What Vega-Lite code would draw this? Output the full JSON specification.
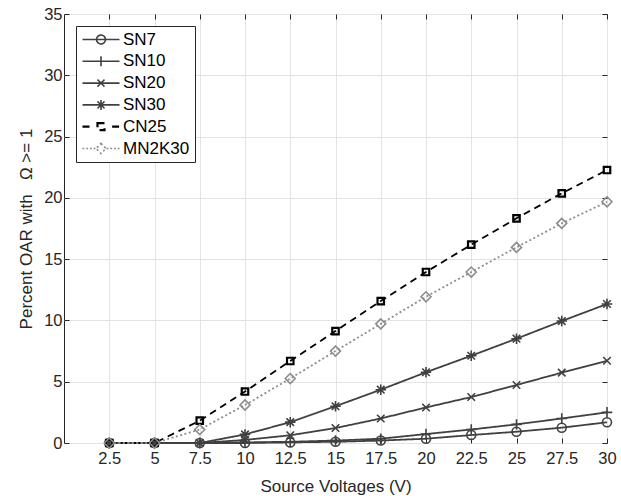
{
  "$schema": "https://vega.github.io/schema/vega-lite/v6.json",
  "width": 543,
  "height": 429,
  "autosize": {"type": "none"},
  "padding": {"left": 64, "top": 14, "right": 14, "bottom": 53},
  "background": "white",
  "config": {
    "font": "Liberation Sans",
    "view": {"stroke": "#262626", "strokeWidth": 1},
    "axis": {
      "labelFont": "Liberation Sans",
      "labelFontSize": 16.5,
      "labelColor": "#262626",
      "titleFont": "Liberation Sans",
      "titleFontSize": 17,
      "titleFontWeight": "normal",
      "titleColor": "#262626",
      "domainColor": "#262626",
      "tickColor": "#262626",
      "gridColor": "#e3e3e3",
      "gridWidth": 1,
      "labelFlush": false,
      "labelOverlap": false
    }
  },
  "data": {
    "values": [
      {"v": 2.5, "s": "SN7", "p": 0}, {"v": 5, "s": "SN7", "p": 0}, {"v": 7.5, "s": "SN7", "p": 0}, {"v": 10, "s": "SN7", "p": 0}, {"v": 12.5, "s": "SN7", "p": 0.05}, {"v": 15, "s": "SN7", "p": 0.1}, {"v": 17.5, "s": "SN7", "p": 0.2}, {"v": 20, "s": "SN7", "p": 0.35}, {"v": 22.5, "s": "SN7", "p": 0.65}, {"v": 25, "s": "SN7", "p": 0.92}, {"v": 27.5, "s": "SN7", "p": 1.25}, {"v": 30, "s": "SN7", "p": 1.69},
      {"v": 2.5, "s": "SN10", "p": 0}, {"v": 5, "s": "SN10", "p": 0}, {"v": 7.5, "s": "SN10", "p": 0}, {"v": 10, "s": "SN10", "p": 0.05}, {"v": 12.5, "s": "SN10", "p": 0.1}, {"v": 15, "s": "SN10", "p": 0.2}, {"v": 17.5, "s": "SN10", "p": 0.35}, {"v": 20, "s": "SN10", "p": 0.73}, {"v": 22.5, "s": "SN10", "p": 1.1}, {"v": 25, "s": "SN10", "p": 1.52}, {"v": 27.5, "s": "SN10", "p": 2.0}, {"v": 30, "s": "SN10", "p": 2.5},
      {"v": 2.5, "s": "SN20", "p": 0}, {"v": 5, "s": "SN20", "p": 0}, {"v": 7.5, "s": "SN20", "p": 0}, {"v": 10, "s": "SN20", "p": 0.25}, {"v": 12.5, "s": "SN20", "p": 0.63}, {"v": 15, "s": "SN20", "p": 1.22}, {"v": 17.5, "s": "SN20", "p": 2.0}, {"v": 20, "s": "SN20", "p": 2.9}, {"v": 22.5, "s": "SN20", "p": 3.75}, {"v": 25, "s": "SN20", "p": 4.73}, {"v": 27.5, "s": "SN20", "p": 5.74}, {"v": 30, "s": "SN20", "p": 6.71},
      {"v": 2.5, "s": "SN30", "p": 0}, {"v": 5, "s": "SN30", "p": 0}, {"v": 7.5, "s": "SN30", "p": 0}, {"v": 10, "s": "SN30", "p": 0.7}, {"v": 12.5, "s": "SN30", "p": 1.7}, {"v": 15, "s": "SN30", "p": 3.0}, {"v": 17.5, "s": "SN30", "p": 4.35}, {"v": 20, "s": "SN30", "p": 5.77}, {"v": 22.5, "s": "SN30", "p": 7.12}, {"v": 25, "s": "SN30", "p": 8.51}, {"v": 27.5, "s": "SN30", "p": 9.95}, {"v": 30, "s": "SN30", "p": 11.34},
      {"v": 2.5, "s": "CN25", "p": 0}, {"v": 5, "s": "CN25", "p": 0}, {"v": 7.5, "s": "CN25", "p": 1.82}, {"v": 10, "s": "CN25", "p": 4.2}, {"v": 12.5, "s": "CN25", "p": 6.69}, {"v": 15, "s": "CN25", "p": 9.13}, {"v": 17.5, "s": "CN25", "p": 11.58}, {"v": 20, "s": "CN25", "p": 13.95}, {"v": 22.5, "s": "CN25", "p": 16.18}, {"v": 25, "s": "CN25", "p": 18.33}, {"v": 27.5, "s": "CN25", "p": 20.37}, {"v": 30, "s": "CN25", "p": 22.27},
      {"v": 2.5, "s": "MN2K30", "p": 0}, {"v": 5, "s": "MN2K30", "p": 0}, {"v": 7.5, "s": "MN2K30", "p": 1.1}, {"v": 10, "s": "MN2K30", "p": 3.1}, {"v": 12.5, "s": "MN2K30", "p": 5.26}, {"v": 15, "s": "MN2K30", "p": 7.5}, {"v": 17.5, "s": "MN2K30", "p": 9.72}, {"v": 20, "s": "MN2K30", "p": 11.93}, {"v": 22.5, "s": "MN2K30", "p": 13.95}, {"v": 25, "s": "MN2K30", "p": 15.96}, {"v": 27.5, "s": "MN2K30", "p": 17.92}, {"v": 30, "s": "MN2K30", "p": 19.68}
    ]
  },
  "layer": [
    {
      "mark": {"type": "line", "strokeWidth": 1.8},
      "encoding": {
        "x": {
          "field": "v", "type": "quantitative",
          "scale": {"domain": [0, 30], "nice": false, "zero": false},
          "axis": {"orient": "bottom", "values": [2.5, 5, 7.5, 10, 12.5, 15, 17.5, 20, 22.5, 25, 27.5, 30], "format": ".3~g", "grid": true, "tickSize": -5, "labelPadding": 12, "title": "Source Voltages (V)", "titlePadding": 12, "domain": false}
        },
        "y": {
          "field": "p", "type": "quantitative",
          "scale": {"domain": [0, 35], "nice": false},
          "axis": {"orient": "left", "values": [0, 5, 10, 15, 20, 25, 30, 35], "grid": true, "tickSize": -5, "labelPadding": 7, "title": "Percent OAR with \u00a0\u00a0Ω >= 1", "titlePadding": 8, "domain": false}
        },
        "color": {
          "field": "s", "type": "nominal",
          "scale": {"domain": ["SN7", "SN10", "SN20", "SN30", "CN25", "MN2K30"], "range": ["#404040", "#404040", "#404040", "#404040", "#000000", "#8c8c8c"]},
          "legend": {
            "orient": "top-left", "offset": 12, "title": null,
            "labelFont": "Liberation Sans", "labelFontSize": 17, "labelColor": "#000000",
            "symbolSize": 1369, "clipHeight": 17, "rowPadding": 3.8, "labelOffset": 3, "padding": 5,
            "strokeColor": "#262626", "fillColor": "white", "symbolStrokeWidth": 1.5,
            "encode": {
              "symbols": {
                "update": {
                  "shape": {"signal": "datum.value === 'SN7' ? 'M-1,0H1M0.24,0A0.24,0.24,0,1,1,-0.24,0A0.24,0.24,0,1,1,0.24,0' : datum.value === 'SN10' ? 'M-1,0H1M0,-0.27V0.27' : datum.value === 'SN20' ? 'M-1,0H1M-0.19,-0.19L0.19,0.19M-0.19,0.19L0.19,-0.19' : datum.value === 'SN30' ? 'M-1,0H1M0,-0.27V0.27M-0.19,-0.19L0.19,0.19M-0.19,0.19L0.19,-0.19' : datum.value === 'CN25' ? 'M-1,0H-0.6M0.6,0H1M-0.19,-0.19H0.19V0.19H-0.19Z' : 'M-1,0H-0.9M-0.8,0H-0.7M-0.6,0H-0.5M-0.4,0H-0.3M0.3,0H0.4M0.5,0H0.6M0.7,0H0.8M0.9,0H1M0,-0.27L0.27,0L0,0.27L-0.27,0Z'"},
                  "size": {"value": 1369},
                  "x": {"value": 20},
                  "fill": {"value": "transparent"},
                  "strokeDash": {"value": []},
                  "strokeWidth": {"signal": "datum.value === 'CN25' ? 2.2 : 1.6"}
                }
              },
              "labels": {
                "update": {
                  "x": {"value": 42}
                }
              }
            }
          }
        },
        "strokeDash": {
          "field": "s", "type": "nominal",
          "scale": {"domain": ["SN7", "SN10", "SN20", "SN30", "CN25", "MN2K30"], "range": [[1, 0], [1, 0], [1, 0], [1, 0], [7, 5], [2, 2.5]]},
          "legend": null
        }
      }
    },
    {
      "transform": [{"filter": "datum.s === 'SN7'"}],
      "mark": {"type": "point", "filled": false, "opacity": 1, "shape": "circle", "size": 81, "strokeWidth": 1.6, "color": "#404040"},
      "encoding": {
        "x": {
          "field": "v", "type": "quantitative",
          "axis": {"orient": "top", "values": [2.5, 5, 7.5, 10, 12.5, 15, 17.5, 20, 22.5, 25, 27.5, 30], "grid": false, "tickSize": -5, "labels": false, "title": null, "domain": false}
        },
        "y": {
          "field": "p", "type": "quantitative",
          "axis": {"orient": "right", "values": [0, 5, 10, 15, 20, 25, 30, 35], "grid": false, "tickSize": -5, "labels": false, "title": null, "domain": false}
        }
      }
    },
    {
      "transform": [{"filter": "datum.s === 'SN10'"}],
      "mark": {"type": "point", "filled": false, "opacity": 1, "shape": "M0,-1V1M-1,0H1", "size": 110, "strokeWidth": 1.6, "color": "#404040"},
      "encoding": {
        "x": {"field": "v", "type": "quantitative", "axis": null},
        "y": {"field": "p", "type": "quantitative", "axis": null}
      }
    },
    {
      "transform": [{"filter": "datum.s === 'SN20'"}],
      "mark": {"type": "point", "filled": false, "opacity": 1, "shape": "M-0.75,-0.75L0.75,0.75M-0.75,0.75L0.75,-0.75", "size": 100, "strokeWidth": 1.6, "color": "#404040"},
      "encoding": {
        "x": {"field": "v", "type": "quantitative", "axis": null},
        "y": {"field": "p", "type": "quantitative", "axis": null}
      }
    },
    {
      "transform": [{"filter": "datum.s === 'SN30'"}],
      "mark": {"type": "point", "filled": false, "opacity": 1, "shape": "M0,-1V1M-1,0H1M-0.72,-0.72L0.72,0.72M-0.72,0.72L0.72,-0.72", "size": 110, "strokeWidth": 1.6, "color": "#404040"},
      "encoding": {
        "x": {"field": "v", "type": "quantitative", "axis": null},
        "y": {"field": "p", "type": "quantitative", "axis": null}
      }
    },
    {
      "transform": [{"filter": "datum.s === 'CN25'"}],
      "mark": {"type": "point", "filled": false, "opacity": 1, "shape": "square", "size": 42, "strokeWidth": 2.2, "color": "#000000"},
      "encoding": {
        "x": {"field": "v", "type": "quantitative", "axis": null},
        "y": {"field": "p", "type": "quantitative", "axis": null}
      }
    },
    {
      "transform": [{"filter": "datum.s === 'MN2K30'"}],
      "mark": {"type": "point", "filled": false, "opacity": 1, "shape": "diamond", "size": 100, "strokeWidth": 1.6, "color": "#8c8c8c"},
      "encoding": {
        "x": {"field": "v", "type": "quantitative", "axis": null},
        "y": {"field": "p", "type": "quantitative", "axis": null}
      }
    }
  ],
  "resolve": {"axis": {"x": "independent", "y": "independent"}}
}
